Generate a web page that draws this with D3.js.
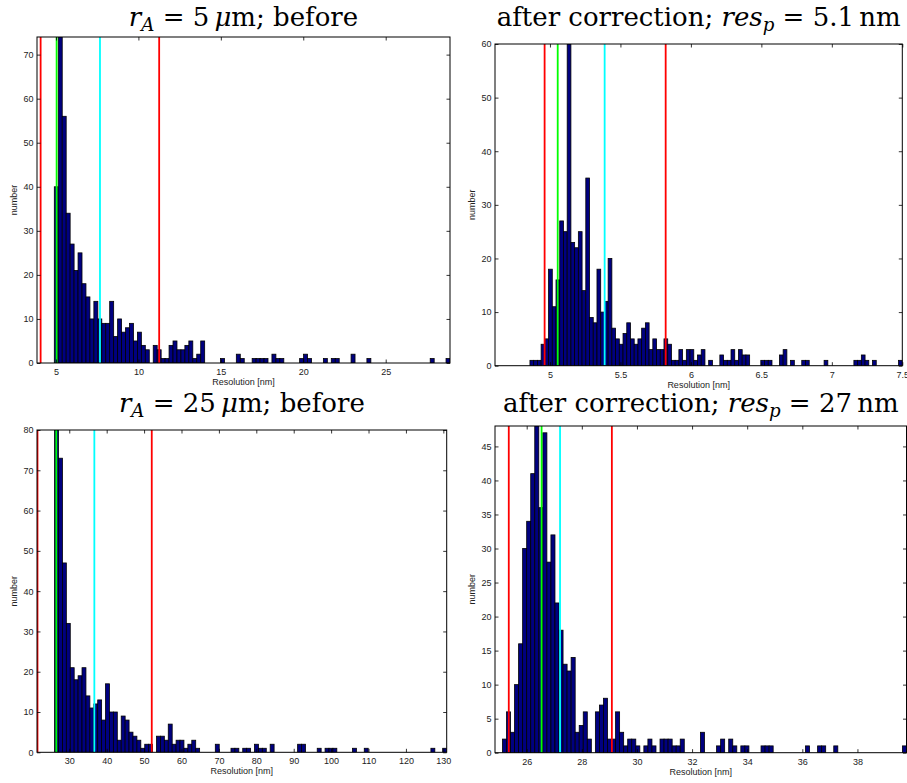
<!DOCTYPE html>
<html>
<head>
<meta charset="utf-8">
<script src="https://cdn.jsdelivr.net/npm/d3@7"></script>
<style>
  body { margin: 0; background: #fff; }
  svg { display: block; }
</style>
</head>
<body>
<svg id="fig" width="907" height="783"></svg>
<script>
// ---- histogram data: 100 bins per panel (count per bin) ----
const countsBefore5um = [
  40,74,56,34,27,21,25,18,15,10,
  14,10,9,9,14,6,10,7,8,9,
  5,7,4,3,0,4,3,1,1,4,
  5,3,3,4,5,1,2,5,0,0,
  0,0,1,0,0,0,2,1,0,0,
  1,1,1,1,0,2,1,1,0,0,
  0,0,1,2,1,0,0,0,1,0,
  1,1,0,0,0,2,0,0,0,1,
  0,0,0,0,0,0,0,0,0,0,
  0,0,0,0,0,1,0,0,0,1
];
const countsAfter5um = [
  1,1,1,4,5,18,11,16,27,25,
  60,23,22,25,14,35,9,8,18,10,
  12,20,7,5,4,6,8,5,4,5,
  7,8,3,5,3,3,5,4,1,1,
  3,1,3,3,1,2,3,0,1,0,
  0,2,1,1,3,1,3,2,2,0,
  0,0,1,1,1,0,0,2,3,0,
  1,0,0,1,1,0,0,0,0,1,
  0,0,0,0,0,0,0,1,1,2,
  1,0,1,0,0,0,0,0,0,1
];
const countsBefore25um = [
  80,73,47,32,21,18,19,21,14,11,
  12,13,8,17,10,10,3,9,8,5,
  4,3,1,2,2,0,4,4,3,7,
  2,3,3,1,2,3,1,0,0,0,
  0,2,0,0,0,1,1,0,1,1,
  0,2,1,1,0,2,0,0,0,0,
  0,0,2,2,0,0,0,1,0,1,
  1,1,0,0,0,0,1,0,0,1,
  0,0,0,0,0,0,0,0,0,0,
  0,0,0,0,0,0,1,0,0,1
];
const countsAfter25um = [
  2,6,3,10,16,30,34,41,48,36,
  47,28,32,22,18,13,12,14,3,4,
  6,2,0,6,7,8,2,2,6,3,
  1,2,2,1,0,1,2,1,0,2,
  2,2,1,1,2,0,0,0,0,3,
  0,0,0,1,2,0,2,1,0,1,
  1,0,0,0,1,1,1,0,0,0,
  0,0,0,0,0,1,0,0,1,1,
  0,0,1,0,0,0,0,0,0,0,
  0,0,0,0,0,0,0,0,0,1
];

// first bin edge and bin width [nm]
const binStart = [4.9, 4.858, 26.07, 25.12];
const binWidth = [0.24, 0.02642, 1.048, 0.1466];

// x / y ranges [nm] / [number]
const xRanges = [[3.85, 28.9], [4.61, 7.5], [21.37, 130.9], [24.85, 39.78]];
const yMax = [74, 60, 80, 48];

// marker lines [nm]: lower bound, peak, mean, upper bound
const redLow  = [4.07, 4.962, 21.5, 25.35];
const greenPk = [5.04, 5.055, 26.53, 26.54];
const cyanMn  = [7.67, 5.388, 36.7, 27.21];
const redHigh = [11.26, 5.821, 52.05, 29.09];

// tick values
const xTicks = [
  [5, 10, 15, 20, 25],
  [5, 5.5, 6, 6.5, 7, 7.5],
  [30, 40, 50, 60, 70, 80, 90, 100, 110, 120, 130],
  [26, 28, 30, 32, 34, 36, 38]
];
const yTicks = [
  [0, 10, 20, 30, 40, 50, 60, 70],
  [0, 10, 20, 30, 40, 50, 60],
  [0, 10, 20, 30, 40, 50, 60, 70, 80],
  [0, 5, 10, 15, 20, 25, 30, 35, 40, 45]
];

// titles: segments of (text, italic, subscript)
const titles = [
  [["r", 1, 0], ["A", 1, 1], [" = 5\u2009", 0, 0], ["\u03bc", 1, 0], ["m; before", 0, 0]],
  [["after correction; ", 0, 0], ["res", 1, 0], ["p", 1, 1], [" = 5.1\u2009nm", 0, 0]],
  [["r", 1, 0], ["A", 1, 1], [" = 25\u2009", 0, 0], ["\u03bc", 1, 0], ["m; before", 0, 0]],
  [["after correction; ", 0, 0], ["res", 1, 0], ["p", 1, 1], [" = 27\u2009nm", 0, 0]]
];
const xLabel = "Resolution [nm]";
const yLabel = "number";

const allCounts = [countsBefore5um, countsAfter5um, countsBefore25um, countsAfter25um];

// ---- layout of the four axes boxes ----
const boxes = [
  { left: 37,  right: 450,   top: 37,  bottom: 363 },
  { left: 495, right: 902.3, top: 44,  bottom: 365.7 },
  { left: 37,  right: 446.7, top: 430, bottom: 752.3 },
  { left: 495, right: 906.5, top: 426, bottom: 752.7 }
];
const titleBaseline = [26, 26, 412, 412];

const svg = d3.select("#fig");
const sansFont = '"Liberation Sans", Arial, Helvetica, sans-serif';
const serifFont = '"DejaVu Serif", "Liberation Serif", serif';
const tickLen = 3.5;

function drawTitle(cx, y, segs, size) {
  const t = svg.append("text")
    .attr("x", cx).attr("y", y)
    .attr("text-anchor", "middle")
    .style("font-family", serifFont)
    .style("font-size", size + "px")
    .style("white-space", "pre")
    .attr("fill", "#000");
  let down = false;
  segs.forEach(([txt, it, sub]) => {
    const ts = t.append("tspan").text(txt);
    if (it) ts.style("font-style", "italic");
    if (sub) {
      ts.attr("dy", size * 0.2).style("font-size", (size * 0.7) + "px");
      down = true;
    } else if (down) {
      ts.attr("dy", -size * 0.2);
      down = false;
    }
  });
}

boxes.forEach((b, i) => {
  const x = d3.scaleLinear().domain(xRanges[i]).range([b.left, b.right]);
  const y = d3.scaleLinear().domain([0, yMax[i]]).range([b.bottom, b.top]);
  const g = svg.append("g");

  const clipId = "clip" + i;
  svg.append("clipPath").attr("id", clipId)
    .append("rect")
    .attr("x", b.left).attr("y", b.top)
    .attr("width", b.right - b.left).attr("height", b.bottom - b.top);

  const plot = g.append("g").attr("clip-path", `url(#${clipId})`);

  // histogram bars
  const bins = allCounts[i].map((c, k) => ({
    x0: binStart[i] + k * binWidth[i],
    x1: binStart[i] + (k + 1) * binWidth[i],
    c
  })).filter(d => d.c > 0);

  plot.selectAll("rect.bar").data(bins).join("rect")
    .attr("class", "bar")
    .attr("x", d => x(d.x0))
    .attr("width", d => x(d.x1) - x(d.x0))
    .attr("y", d => y(d.c))
    .attr("height", d => y(0) - y(d.c))
    .attr("fill", "#000080")
    .attr("stroke", "#000")
    .attr("stroke-width", 0.8);

  // marker lines
  const marks = [
    { v: redLow[i], col: "#ff0000" },
    { v: greenPk[i], col: "#00ff00" },
    { v: cyanMn[i], col: "#00ffff" },
    { v: redHigh[i], col: "#ff0000" }
  ];
  plot.selectAll("line.mark").data(marks).join("line")
    .attr("class", "mark")
    .attr("x1", d => x(d.v)).attr("x2", d => x(d.v))
    .attr("y1", y(0)).attr("y2", y(yMax[i]))
    .attr("stroke", d => d.col)
    .attr("stroke-width", 1.8);

  // axes with inward ticks on all four sides
  const styleAxis = sel => {
    sel.select(".domain").remove();
    sel.selectAll(".tick line").attr("stroke", "#000").attr("stroke-width", 0.8);
    sel.selectAll(".tick text")
      .style("font-family", sansFont)
      .style("font-size", "9px")
      .attr("fill", "#222");
  };
  g.append("g").attr("transform", `translate(0,${b.bottom})`)
    .call(d3.axisBottom(x).tickValues(xTicks[i]).tickSizeInner(-tickLen).tickSizeOuter(0)
      .tickPadding(5.5).tickFormat(d => String(d)))
    .call(styleAxis);
  g.append("g").attr("transform", `translate(0,${b.top})`)
    .call(d3.axisTop(x).tickValues(xTicks[i]).tickSizeInner(-tickLen).tickSizeOuter(0)
      .tickFormat(""))
    .call(styleAxis);
  g.append("g").attr("transform", `translate(${b.left},0)`)
    .call(d3.axisLeft(y).tickValues(yTicks[i]).tickSizeInner(-tickLen).tickSizeOuter(0)
      .tickPadding(3.5).tickFormat(d => String(d)))
    .call(styleAxis);
  g.append("g").attr("transform", `translate(${b.right},0)`)
    .call(d3.axisRight(y).tickValues(yTicks[i]).tickSizeInner(-tickLen).tickSizeOuter(0)
      .tickFormat(""))
    .call(styleAxis);

  // axes frame
  g.append("rect")
    .attr("x", b.left).attr("y", b.top)
    .attr("width", b.right - b.left).attr("height", b.bottom - b.top)
    .attr("fill", "none").attr("stroke", "#000").attr("stroke-width", 1);

  // axis labels
  g.append("text")
    .attr("x", (b.left + b.right) / 2).attr("y", b.bottom + 22)
    .attr("text-anchor", "middle")
    .style("font-family", sansFont).style("font-size", "9px")
    .attr("fill", "#222")
    .text(xLabel);
  g.append("text")
    .attr("transform", `translate(${b.left - 20},${(b.top + b.bottom) / 2}) rotate(-90)`)
    .attr("text-anchor", "middle")
    .style("font-family", sansFont).style("font-size", "9px")
    .attr("fill", "#222")
    .text(yLabel);

  drawTitle((b.left + b.right) / 2, titleBaseline[i], titles[i], 26);
});
</script>
</body>
</html>
